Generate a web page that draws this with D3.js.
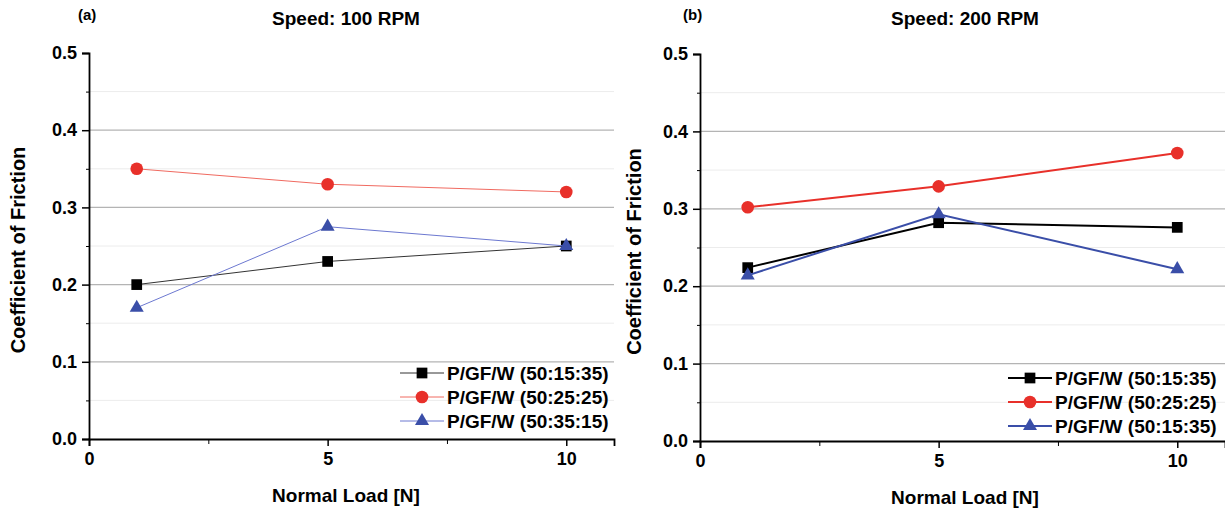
<meta charset="utf-8">
<style>
body { margin: 0; background: #fff; }
text { font-family: "Liberation Sans", Arial, sans-serif; font-weight: bold; fill: #000; }
</style>
<body>
<script src="https://d3js.org/d3.v7.min.js"></script>
<script>
// data
var loads = [1, 5, 10];
var xTicks = [0, 5, 10];
var yTicks = [0, 0.1, 0.2, 0.3, 0.4, 0.5];

var labelsA = ["P/GF/W (50:15:35)", "P/GF/W (50:25:25)", "P/GF/W (50:35:15)"];
var blackA = [0.200, 0.230, 0.250];
var redA   = [0.350, 0.330, 0.320];
var blueA  = [0.170, 0.275, 0.250];

var labelsB = ["P/GF/W (50:15:35)", "P/GF/W (50:25:25)", "P/GF/W (50:15:35)"];
var blackB = [0.224, 0.282, 0.276];
var redB   = [0.302, 0.329, 0.372];
var blueB  = [0.214, 0.293, 0.222];

var svg = d3.select("body").append("svg")
    .attr("width", 1225)
    .attr("height", 509);

function panel(opt) {
  var x = d3.scaleLinear().domain([0, 11]).range([opt.left, opt.right]);
  var y = d3.scaleLinear().domain([0, 0.5]).range([opt.bottom, opt.top]);
  var g = svg.append("g");

  // grid: light minor lines, gray major lines
  g.selectAll(".minor").data(d3.range(0.05, 0.5, 0.1)).enter().append("line")
      .attr("x1", x(0)).attr("x2", opt.right)
      .attr("y1", d => y(d)).attr("y2", d => y(d))
      .style("stroke", "#ececec").style("stroke-width", 1);
  g.selectAll(".major").data(yTicks.filter(d => d > 0 && d < 0.5)).enter().append("line")
      .attr("x1", x(0)).attr("x2", opt.right)
      .attr("y1", d => y(d)).attr("y2", d => y(d))
      .style("stroke", "#b4b4b4").style("stroke-width", 1.2);

  // y axis
  var ya = g.append("g").attr("transform", "translate(" + x(0) + ",0)")
      .call(d3.axisLeft(y).tickValues(yTicks).tickFormat(d3.format(".1f")).tickSizeOuter(0).tickSize(7).tickPadding(5));
  ya.selectAll(".tick line").style("stroke-width", 1.5);
  ya.select(".domain").style("stroke-width", 1.8);
  ya.selectAll("text").style("font-size", "18px").style("font-family", "Liberation Sans, Arial, sans-serif").style("font-weight", "bold");
  g.append("g").attr("transform", "translate(" + x(0) + ",0)")
      .call(d3.axisLeft(y).tickValues(d3.range(0.05, 0.5, 0.1)).tickFormat("").tickSize(3).tickSizeOuter(0))
      .select(".domain").remove();

  // x axis
  var xa = g.append("g").attr("transform", "translate(0," + y(0) + ")")
      .call(d3.axisBottom(x).tickValues(xTicks).tickSizeOuter(0).tickSize(7).tickPadding(6));
  xa.selectAll(".tick line").style("stroke-width", 1.5);
  xa.select(".domain").style("stroke-width", 1.8);
  xa.selectAll("text").style("font-size", "18px").style("font-family", "Liberation Sans, Arial, sans-serif").style("font-weight", "bold");
  g.append("g").attr("transform", "translate(0," + y(0) + ")")
      .call(d3.axisBottom(x).tickValues([2.5, 7.5]).tickFormat("").tickSize(5).tickSizeOuter(0))
      .select(".domain").remove();

  // titles
  g.append("text").attr("x", opt.tagX).attr("y", 20).style("font-size", "15px").text(opt.tag);
  g.append("text").attr("x", opt.titleX).attr("y", 25).attr("text-anchor", "middle")
      .style("font-size", "19px").text(opt.title);
  g.append("text").attr("transform", "translate(" + opt.yTitleX + "," + (y(0.25) + 4) + ") rotate(-90)")
      .attr("text-anchor", "middle").style("font-size", "20px").text("Coefficient of Friction");
  g.append("text").attr("x", opt.titleX).attr("y", opt.xTitleY).attr("text-anchor", "middle")
      .style("font-size", "19px").text("Normal Load [N]");

  var series = [
    {vals: opt.black, color: "#000", line: opt.thin ? "#333" : "#000", shape: d3.symbolSquare, size: 115},
    {vals: opt.red, color: "#e8302a", line: opt.thin ? "#f06a60" : "#e8302a", shape: d3.symbolCircle, size: 125},
    {vals: opt.blue, color: "#3a4ea8", line: opt.thin ? "#6c78d0" : "#3a4ea8", shape: d3.symbolTriangle, size: 85}
  ];
  var line = d3.line().x((d, i) => x(loads[i])).y(d => y(d));

  series.forEach(function(s, k) {
    g.append("path").datum(s.vals).attr("d", line)
        .style("fill", "none").style("stroke", s.line).style("stroke-width", opt.thin ? 1 : 2);
    g.selectAll(".pt" + k).data(s.vals).enter().append("path")
        .attr("transform", (d, i) => "translate(" + x(loads[i]) + "," + y(d) + ")")
        .attr("d", d3.symbol().type(s.shape).size(s.size))
        .style("fill", s.color);

    // legend entry
    var ly = opt.legY + k * 24;
    g.append("line").attr("x1", opt.legX).attr("x2", opt.legX + 44)
        .attr("y1", ly).attr("y2", ly)
        .style("stroke", s.line).style("stroke-width", opt.thin ? 1 : 2);
    g.append("path").attr("transform", "translate(" + (opt.legX + 22) + "," + ly + ")")
        .attr("d", d3.symbol().type(s.shape).size(s.size)).style("fill", s.color);
    g.append("text").attr("x", opt.legX + 47).attr("y", ly + 7)
        .style("font-size", "19px").text(opt.labels[k]);
  });
}

panel({left: 89, right: 614, top: 53, bottom: 439, tag: "(a)", tagX: 78, title: "Speed: 100 RPM",
       titleX: 346, yTitleX: 25, xTitleY: 502, legX: 400, legY: 373, thin: true,
       black: blackA, red: redA, blue: blueA, labels: labelsA});
panel({left: 700, right: 1225, top: 54, bottom: 441, tag: "(b)", tagX: 683, title: "Speed: 200 RPM",
       titleX: 965, yTitleX: 641, xTitleY: 504, legX: 1008, legY: 378, thin: false,
       black: blackB, red: redB, blue: blueB, labels: labelsB});
</script>
</body>
